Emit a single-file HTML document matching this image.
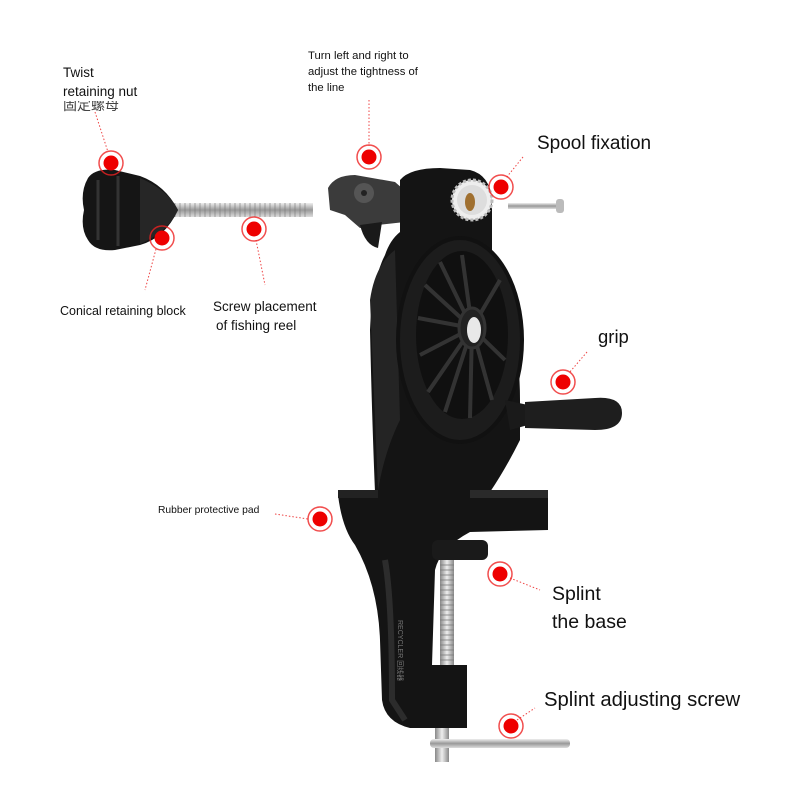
<!DOCTYPE html>
<html><head><meta charset="utf-8"><style>
body{margin:0;background:#fff;}
svg{display:block}
text{font-family:"Liberation Sans","Noto Sans CJK SC",sans-serif;fill:#111}
</style></head><body>
<svg width="800" height="800" viewBox="0 0 800 800" xmlns="http://www.w3.org/2000/svg">
<defs>
<linearGradient id="met" x1="0" y1="0" x2="0" y2="1"><stop offset="0" stop-color="#eee"/><stop offset=".5" stop-color="#999"/><stop offset="1" stop-color="#ddd"/></linearGradient>
<linearGradient id="metv" x1="0" y1="0" x2="1" y2="0"><stop offset="0" stop-color="#888"/><stop offset=".5" stop-color="#eee"/><stop offset="1" stop-color="#888"/></linearGradient>
<g id="dot"><circle r="12" fill="none" stroke="#e22" stroke-width="1.5" opacity=".8"/><circle r="7.5" fill="#e00"/></g>
</defs>
<rect width="800" height="800" fill="#fff"/>

<g stroke="#e44" stroke-width="1" stroke-dasharray="1.5 2" fill="none">
<line x1="95" y1="112" x2="108" y2="152"/>
<line x1="156" y1="249" x2="145" y2="290"/>
<line x1="256" y1="240" x2="265" y2="285"/>
<line x1="369" y1="100" x2="369" y2="146"/>
<line x1="523" y1="157" x2="506" y2="178"/>
<line x1="587" y1="352" x2="569" y2="373"/>
<line x1="275" y1="514" x2="308" y2="519"/>
<line x1="510" y1="578" x2="540" y2="590"/>
<line x1="517" y1="720" x2="535" y2="708"/>
</g>

<rect x="165" y="203" width="148" height="14" fill="url(#met)"/>
<g stroke="#777" stroke-width=".6">
<path d="M175 203v14M180 203v14M185 203v14M190 203v14M195 203v14M200 203v14M205 203v14M210 203v14M215 203v14M220 203v14M225 203v14M230 203v14M235 203v14M240 203v14M245 203v14M250 203v14M255 203v14M260 203v14M265 203v14M270 203v14M275 203v14M280 203v14M285 203v14M290 203v14M295 203v14M300 203v14M305 203v14"/>
</g>
<path d="M88 178 Q95 168 115 170 L140 176 Q165 185 178 210 Q165 238 140 245 L115 250 Q95 252 88 240 Q80 228 84 210 Q80 192 88 178Z" fill="#151515"/>
<path d="M140 178 Q168 190 178 210 Q168 232 140 244Z" fill="#262626"/>
<path d="M98 180v60M118 176v70" stroke="#333" stroke-width="3"/>

<path d="M328 188 Q335 175 355 175 L395 182 L410 195 L405 222 L378 225 L360 228 L345 215 L330 210Z" fill="#3b3b3b"/>
<circle cx="364" cy="193" r="10" fill="#555"/><circle cx="364" cy="193" r="3" fill="#222"/>
<path d="M360 225 Q365 245 378 248 L382 222Z" fill="#1a1a1a"/>

<rect x="508" y="203" width="50" height="6" fill="url(#met)"/>
<rect x="556" y="199" width="8" height="14" rx="3" fill="#bbb"/>

<path d="M400 180 Q410 168 440 168 L470 170 Q490 175 492 200 L492 250 L470 260 Q520 300 520 400 L520 440 Q505 470 490 492 L548 494 L548 530 L470 532 Q440 548 435 570 L432 665 L467 668 L467 728 L410 728 Q385 722 382 700 L380 640 Q378 585 355 545 Q342 528 338 495 L375 492 Q372 420 370 330 Q372 280 385 255 Q390 240 400 232Z" fill="#141414"/>
<path d="M370 300 Q375 265 395 250 L400 420 Q385 450 378 490Z" fill="#242424"/>
<path d="M385 560 Q392 600 392 700 L405 720" stroke="#2c2c2c" stroke-width="6" fill="none"/>
<circle cx="472" cy="200" r="20" fill="#eee" stroke="#bbb" stroke-width="3" stroke-dasharray="3 2"/>
<circle cx="472" cy="200" r="15" fill="#ddd"/>
<ellipse cx="470" cy="202" rx="5" ry="9" fill="#a07030"/>
<ellipse cx="460" cy="340" rx="62" ry="102" fill="#1c1c1c" stroke="#111" stroke-width="4"/>
<ellipse cx="462" cy="335" rx="46" ry="84" fill="#101010"/>
<g stroke="#333" stroke-width="4">
<line x1="472" y1="328" x2="462" y2="255"/><line x1="472" y1="328" x2="440" y2="262"/>
<line x1="472" y1="328" x2="425" y2="285"/><line x1="472" y1="328" x2="418" y2="318"/>
<line x1="472" y1="328" x2="420" y2="355"/><line x1="472" y1="328" x2="428" y2="392"/>
<line x1="472" y1="328" x2="445" y2="412"/><line x1="472" y1="328" x2="470" y2="418"/>
<line x1="472" y1="328" x2="492" y2="400"/><line x1="472" y1="328" x2="505" y2="360"/>
<line x1="472" y1="328" x2="500" y2="280"/>
</g>
<ellipse cx="472" cy="328" rx="13" ry="20" fill="#222" stroke="#333" stroke-width="3"/>
<ellipse cx="474" cy="330" rx="7" ry="13" fill="#e8e8e8"/>
<path d="M505 400 L528 405 L528 425 L510 430Z" fill="#1a1a1a"/>
<path d="M525 402 L595 398 Q622 396 622 413 Q622 430 595 430 L525 428Z" fill="#1e1e1e"/>
<rect x="338" y="490" width="40" height="8" fill="#222"/>
<rect x="470" y="490" width="78" height="8" fill="#2a2a2a"/>
<rect x="432" y="540" width="56" height="20" rx="6" fill="#1a1a1a"/>
<rect x="440" y="560" width="14" height="110" fill="url(#metv)"/>
<g stroke="#777" stroke-width=".7"><path d="M440 565h14M440 570h14M440 575h14M440 580h14M440 585h14M440 590h14M440 595h14M440 600h14M440 605h14M440 610h14M440 615h14M440 620h14M440 625h14M440 630h14M440 635h14M440 640h14M440 645h14M440 650h14M440 655h14M440 660h14"/></g>
<rect x="432" y="665" width="35" height="63" fill="#141414"/>
<text x="0" y="0" transform="translate(398,620) rotate(90)" font-size="7" style="fill:#777">RECYCLER 回线器</text>
<rect x="435" y="728" width="14" height="34" fill="url(#metv)"/>
<rect x="430" y="739" width="140" height="9" rx="4" fill="url(#met)"/>

<use href="#dot" x="111" y="163"/>
<use href="#dot" x="162" y="238"/>
<use href="#dot" x="254" y="229"/>
<use href="#dot" x="369" y="157"/>
<use href="#dot" x="501" y="187"/>
<use href="#dot" x="563" y="382"/>
<use href="#dot" x="320" y="519"/>
<use href="#dot" x="500" y="574"/>
<use href="#dot" x="511" y="726"/>

<text x="63" y="110" font-size="14" style="fill:#444">固定螺母</text>
<rect x="60" y="80" width="110" height="21" fill="#fff"/>
<text x="63" y="77" font-size="13.5">Twist</text>
<text x="63" y="96" font-size="13.5">retaining nut</text>
<text x="308" y="59" font-size="11.3">Turn left and right to</text>
<text x="308" y="75" font-size="11.3">adjust the tightness of</text>
<text x="308" y="91" font-size="11.3">the line</text>
<text x="537" y="149" font-size="19">Spool fixation</text>
<text x="60" y="315" font-size="12.5">Conical retaining block</text>
<text x="213" y="311" font-size="13.5">Screw placement</text>
<text x="216" y="330" font-size="13.5">of fishing reel</text>
<text x="598" y="343" font-size="18.5">grip</text>
<text x="158" y="513" font-size="10.3">Rubber protective pad</text>
<text x="552" y="600" font-size="19.5">Splint</text>
<text x="552" y="628" font-size="19.5">the base</text>
<text x="544" y="706" font-size="20.3">Splint adjusting screw</text>
</svg>
</body></html>
